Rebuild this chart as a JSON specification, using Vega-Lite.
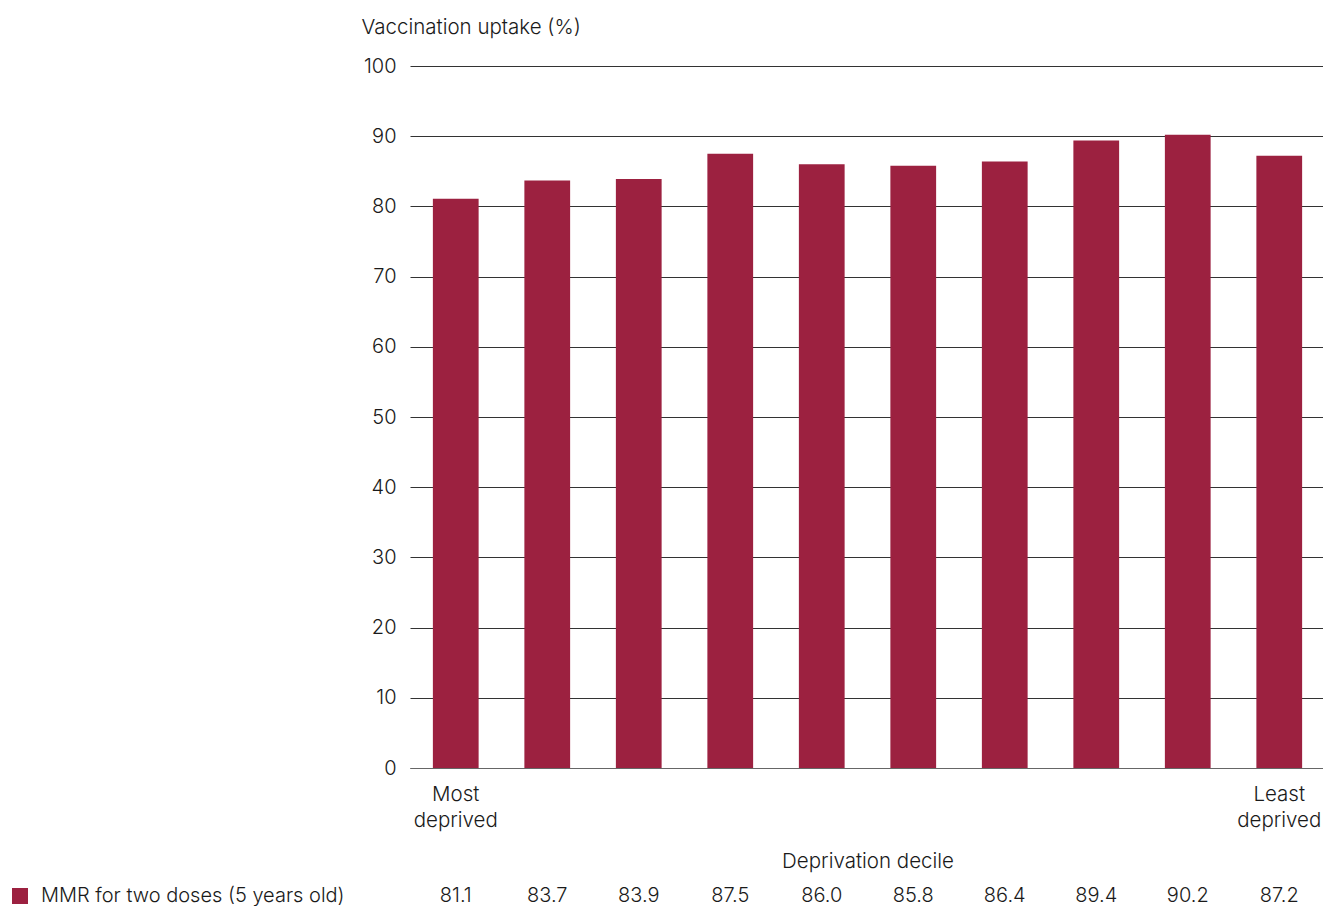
{
  "$schema": "https://vega.github.io/schema/vega-lite/v6.json",
  "padding": {"left": 10, "top": 17, "right": 0, "bottom": 0},
  "spacing": 14,
  "config": {
    "view": {"stroke": null},
    "font": "Inter",
    "text": {"font": "Inter"},
    "axis": {"labelFont": "Inter", "titleFont": "Inter", "labelFontWeight": 300, "titleFontWeight": 300, "labelColor": "#1a1a1a", "titleColor": "#1a1a1a", "labelFontSize": 20, "titleFontSize": 20.5},
    "legend": {"labelFont": "Inter", "labelFontWeight": 300, "labelFontSize": 20, "labelColor": "#1a1a1a", "labelLimit": 500}
  },
  "datasets": {
    "mmr": [
      {"decile": 1, "uptake": 81.1, "series": "MMR for two doses (5 years old)"},
      {"decile": 2, "uptake": 83.7, "series": "MMR for two doses (5 years old)"},
      {"decile": 3, "uptake": 83.9, "series": "MMR for two doses (5 years old)"},
      {"decile": 4, "uptake": 87.5, "series": "MMR for two doses (5 years old)"},
      {"decile": 5, "uptake": 86.0, "series": "MMR for two doses (5 years old)"},
      {"decile": 6, "uptake": 85.8, "series": "MMR for two doses (5 years old)"},
      {"decile": 7, "uptake": 86.4, "series": "MMR for two doses (5 years old)"},
      {"decile": 8, "uptake": 89.4, "series": "MMR for two doses (5 years old)"},
      {"decile": 9, "uptake": 90.2, "series": "MMR for two doses (5 years old)"},
      {"decile": 10, "uptake": 87.2, "series": "MMR for two doses (5 years old)"}
    ]
  },
  "vconcat": [
    {
      "width": 915,
      "height": 702,
      "data": {"name": "mmr"},
      "mark": {"type": "bar"},
      "encoding": {
        "x": {
          "field": "decile", "type": "ordinal",
          "scale": {"paddingInner": 0.5, "paddingOuter": 0.25},
          "axis": {
            "title": "Deprivation decile",
            "labelAngle": 0,
            "labelFontSize": 20.5,
            "ticks": false,
            "domainColor": "#666666",
            "labelOverlap": false,
            "labelExpr": "datum.value == 1 ? ['Most', 'deprived'] : datum.value == 10 ? ['Least', 'deprived'] : ''",
            "labelLineHeight": 26,
            "labelPadding": 16,
            "titleY": 93,
            "titleBaseline": "middle"
          }
        },
        "y": {
          "field": "uptake", "type": "quantitative",
          "scale": {"domain": [0, 100], "nice": false},
          "axis": {
            "title": "Vaccination uptake (%)",
            "values": [0, 10, 20, 30, 40, 50, 60, 70, 80, 90, 100],
            "domain": false,
            "ticks": false,
            "labelPadding": 14,
            "gridColor": "#333333",
            "gridOpacity": 1,
            "titleAngle": 0,
            "titleAlign": "left",
            "titleBaseline": "middle",
            "titleX": -49,
            "titleY": -39
          }
        },
        "color": {
          "field": "series", "type": "nominal",
          "scale": {"range": ["#9c2140"]},
          "legend": {
            "title": null,
            "orient": "none",
            "legendX": -400,
            "legendY": 820,
            "symbolType": "square",
            "symbolSize": 256,
            "symbolOpacity": 1,
            "labelOffset": 11
          }
        }
      }
    },
    {
      "width": 915,
      "height": 20,
      "data": {"name": "mmr"},
      "mark": {"type": "text", "fontSize": 20, "fontWeight": 300, "color": "#1a1a1a"},
      "encoding": {
        "x": {
          "field": "decile", "type": "ordinal",
          "scale": {"paddingInner": 0.5, "paddingOuter": 0.25},
          "axis": null
        },
        "text": {"field": "uptake", "type": "quantitative", "format": ".1f"}
      }
    }
  ]
}
